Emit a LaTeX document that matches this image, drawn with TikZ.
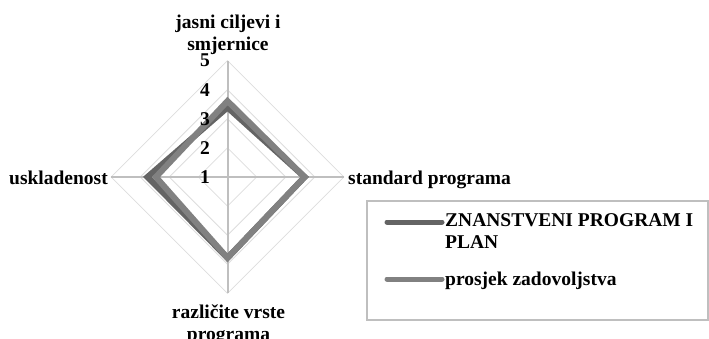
\documentclass[tikz,border=0pt]{standalone}
\usepackage{fontspec}
\setmainfont{Liberation Serif}
\usetikzlibrary{calc}
\definecolor{axisgray}{HTML}{BFBFBF}
\definecolor{gridgray}{HTML}{DDDDDD}
\definecolor{serdark}{HTML}{646464}
\definecolor{serlight}{HTML}{818181}
\begin{document}
\begin{tikzpicture}[x=1pt,y=-1pt,
  lbl/.style={font=\fontsize{19.5}{22}\selectfont\bfseries, inner sep=0pt, align=center},
  gridline/.style={gridgray, line width=0.8},
  axisline/.style={axisgray, line width=2},
  series/.style={line width=6, line join=miter},
  legline/.style={line width=5, line cap=round},
  legendbox/.style={draw=axisgray, line width=1.5, inner sep=0pt, minimum width=341, minimum height=119}]
\useasboundingbox (0,0) rectangle (709,338);
\def\u{29.1}
\coordinate (C) at (227.5,177);
% concentric grid diamonds for levels 2..5
\foreach \k in {1,...,4}
  \draw[gridline] ($(C)+(0,-\k*\u)$) -- ($(C)+(\k*\u,0)$) -- ($(C)+(0,\k*\u)$) -- ($(C)+(-\k*\u,0)$) -- cycle;
% radial axes
\coordinate (aT) at ($(C)+(0,-4*\u)$);
\coordinate (aR) at ($(C)+(4*\u,0)$);
\coordinate (aB) at ($(C)+(0,4*\u)$);
\coordinate (aL) at ($(C)+(-4*\u,0)$);
\foreach \a in {aT,aR,aB,aL} \draw[axisline] (C) -- (\a);
% data series
\draw[series, serdark] ($(C)+(0,-2.39*\u)$) -- ($(C)+(2.65*\u,0)$) -- ($(C)+(0,2.78*\u)$) -- ($(C)+(-2.75*\u,0)$) -- cycle;
\draw[series, serlight] ($(C)+(0,-2.61*\u)$) -- ($(C)+(2.65*\u,0)$) -- ($(C)+(0,2.78*\u)$) -- ($(C)+(-2.46*\u,0)$) -- cycle;
% scale labels
\foreach \k/\t in {0/1,1/2,2/3,3/4,4/5}
  \node[lbl, anchor=east] (tick\t) at ($(C)+(-17.5,-\k*\u)$) {\t};
% category labels (anchor=base sits on the last line)
\node[lbl, anchor=base] (ltop) at (228,50) {jasni ciljevi i\\smjernice};
\node[lbl, anchor=base west] (lright) at (348,184) {standard programa};
\node[lbl, anchor=base east] (lleft) at (108,184) {uskladenost};
\node[lbl, anchor=base] (lbottom) at (228.5,340) {različite vrste\\programa};
% legend
\node[legendbox, anchor=north west] (leg) at (366,200) {};
\coordinate (k1a) at (387,222);
\coordinate (k1b) at (442,222);
\coordinate (k2a) at (387,279);
\coordinate (k2b) at (442,279);
\draw[legline, serdark] (k1a) -- (k1b);
\draw[legline, serlight] (k2a) -- (k2b);
\node[lbl, align=left, anchor=base west] (e1) at (445,248) {ZNANSTVENI PROGRAM I\\PLAN};
\node[lbl, anchor=base west] (e2) at (445,285) {prosjek zadovoljstva};
\end{tikzpicture}
\end{document}
